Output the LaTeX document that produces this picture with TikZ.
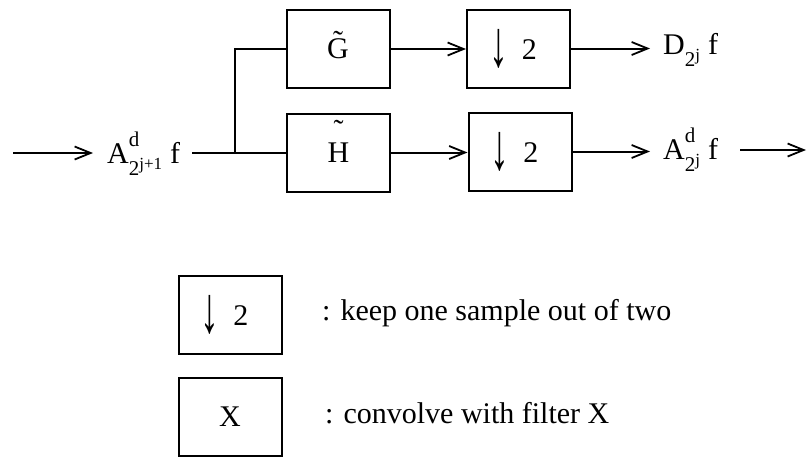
\documentclass[tikz,border=0pt]{standalone}
\usepackage{fontspec}
\setmainfont{Liberation Serif}
\usetikzlibrary{arrows.meta}
\newcommand\sz[1]{\fontsize{#1}{#1}\selectfont}
\newcommand\tildeover[2]{\ooalign{#1\cr\hidewidth\raisebox{#2}{\char"02DC}\hidewidth\cr}}
\newcommand\lab[3]{\sz{30}#1\rlap{\raisebox{17pt}{\sz{21}#2}}\raisebox{-12pt}{\sz{21}2\raisebox{6pt}{\sz{17}#3}}\kern8pt f}
\newcommand\dn{\raisebox{-7pt}{\scalebox{1.25}[2.2]{↓}}\kern14pt 2\kern11pt}
\tikzset{
  box/.style={draw, line width=2pt, minimum width=103pt, minimum height=78pt, inner sep=0pt, font=\sz{30}},
  lbl/.style={inner sep=0pt, anchor=base west},
  conn/.style={line width=2pt},
  arr/.style={conn, -{Straight Barb[length=16pt,width=13pt,line width=1.8pt]}},
  txt/.style={inner sep=0pt, anchor=base west, font=\sz{30}}
}
\begin{document}
\begin{tikzpicture}[x=1pt,y=-1pt]
\useasboundingbox (0,0) rectangle (807,456);
% main boxes
\node[box] (G) at (338,49) {\tildeover{G}{7pt}};
\node[box] (d1) at (518.5,48.5) {\dn};
\node[box] (H) at (338.5,152.5) {\tildeover{H}{22pt}};
\node[box] (d2) at (520,151.5) {\dn};
% labels
\node[lbl] (Ain) at (107,163) {\lab{A}{d}{j+1}};
\node[lbl] (D) at (663,54) {\lab{D}{}{j}};
\node[lbl] (Aout) at (663,159) {\lab{A}{d}{j}};
% connectors
\coordinate (in) at (13,153);
\coordinate (j) at (235,153);
\coordinate (out) at (806,150);
\draw[arr, shorten >=14pt] (in) -- (in -| Ain.west);
\draw[conn, shorten <=12pt] (j -| Ain.east) -- (j) -- (j -| H.west);
\draw[conn] (j) |- (G.west);
\draw[arr] (G.east) -- (G.east -| d1.west);
\draw[arr] (H.east) -- (H.east -| d2.west);
\draw[arr, shorten >=13pt] (d1.east) -- (d1.east -| D.west);
\draw[arr, shorten >=13pt] (d2.east) -- (d2.east -| Aout.west);
\draw[arr, shorten <=22pt] (out -| Aout.east) -- (out);
% legend
\node[box] (L1) at (230,314.5) {\dn};
\node[box] (L2) at (230,417) {X};
\node[txt] (T1) at (322,320) {: keep one sample out of two};
\node[txt] (T2) at (325,423) {: convolve with filter X};
\end{tikzpicture}
\end{document}
